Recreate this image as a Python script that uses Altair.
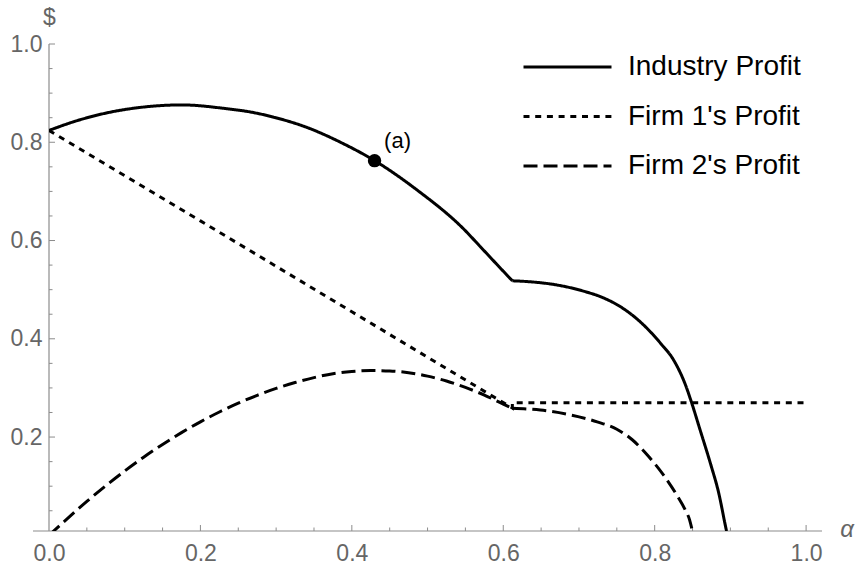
import altair as alt
import pandas as pd

# ---------------- data ----------------
series_names = ["Industry Profit", "Firm 1's Profit", "Firm 2's Profit"]

# industry profit, left of the kink and right of the kink
alpha_industry_left = [0.0, 0.033, 0.077, 0.121, 0.176, 0.231, 0.270, 0.297, 0.341,
                       0.385, 0.430, 0.486, 0.548, 0.570, 0.590, 0.612]
industry_left = [0.824, 0.842, 0.860, 0.871, 0.876, 0.869, 0.8605, 0.851, 0.830,
                 0.800, 0.7626, 0.703, 0.623, 0.587, 0.554, 0.518]
alpha_industry_right = [0.612, 0.636, 0.671, 0.706, 0.7284, 0.7548, 0.7813, 0.8077,
                        0.8253, 0.8407, 0.8473, 0.8605, 0.8737, 0.8843, 0.8949, 0.8962]
industry_right = [0.518, 0.516, 0.5095, 0.497, 0.4857, 0.4653, 0.434, 0.391,
                  0.356, 0.306, 0.277, 0.212, 0.146, 0.088, 0.0088, 0.0]

alpha_firm1 = [0.0, 0.2, 0.4, 0.612, 0.612, 1.0]
firm1 = [0.824, 0.640, 0.455, 0.259, 0.270, 0.270]

alpha_firm2_left = [0.0, 0.025, 0.05, 0.075, 0.1, 0.125, 0.15, 0.175, 0.2, 0.225,
                    0.25, 0.275, 0.3, 0.325, 0.35, 0.375, 0.4, 0.425, 0.45, 0.475,
                    0.5, 0.525, 0.55, 0.575, 0.6, 0.612]
firm2_left = [0.0, 0.035, 0.069, 0.101, 0.131, 0.159, 0.185, 0.209, 0.231, 0.251,
              0.269, 0.285, 0.299, 0.311, 0.321, 0.329, 0.3335, 0.3355, 0.3345, 0.331,
              0.324, 0.314, 0.301, 0.2855, 0.267, 0.2585]
alpha_firm2_right = [0.612, 0.649, 0.689, 0.724, 0.750, 0.770, 0.790, 0.812,
                     0.830, 0.840, 0.846, 0.851]
firm2_right = [0.2585, 0.255, 0.245, 0.231, 0.216, 0.195, 0.164, 0.122,
               0.080, 0.053, 0.032, 0.0]

point_alpha = [0.430]
point_value = [0.7626]
point_label = ["(a)"]

x_tick_labels = [0.0, 0.2, 0.4, 0.6, 0.8, 1.0]
x_major = [0.2, 0.4, 0.6, 0.8, 1.0]
x_minor = [0.05, 0.1, 0.15, 0.25, 0.3, 0.35, 0.45, 0.5, 0.55, 0.65, 0.7,
           0.75, 0.85, 0.9, 0.95]
y_tick_labels = [0.2, 0.4, 0.6, 0.8, 1.0]
y_major = [0.2, 0.4, 0.6, 0.8, 1.0]
y_minor = [0.05, 0.1, 0.15, 0.25, 0.3, 0.35, 0.45, 0.5, 0.55, 0.65, 0.7,
           0.75, 0.85, 0.9, 0.95]
x_title = ["α"]

# ---------------- layout ----------------
W, H = 773, 487
FONT = "Liberation Sans"
AXIS_GREY = "#8c8c8c"
LABEL_GREY = "#666666"


def seg(a, v, name, part):
    return pd.DataFrame({"alpha": a, "profit": v, "series": name,
                         "seg": name + part, "order": range(len(v))})


smooth_df = pd.concat([
    seg(alpha_industry_left, industry_left, series_names[0], "L"),
    seg(alpha_industry_right, industry_right, series_names[0], "R"),
    seg(alpha_firm2_left, firm2_left, series_names[2], "L"),
    seg(alpha_firm2_right, firm2_right, series_names[2], "R"),
])
firm1_df = seg(alpha_firm1, firm1, series_names[1], "A")

xscale = alt.Scale(domain=[0, 1.021], nice=False, zero=False)
yscale = alt.Scale(domain=[0.0088, 1.0], nice=False, zero=False)

x_enc = alt.X("alpha:Q", scale=xscale,
              axis=alt.Axis(values=x_tick_labels, format=".1f", domain=False, ticks=False,
                            grid=False, labelFontSize=23, labelColor=LABEL_GREY,
                            labelFont=FONT, labelPadding=11, labelFlush=False,
                            labelOverlap=False, title=None))
y_enc = alt.Y("profit:Q", scale=yscale,
              axis=alt.Axis(values=y_tick_labels, format=".1f", domain=False, ticks=False,
                            grid=False, labelFontSize=23, labelColor=LABEL_GREY,
                            labelFont=FONT, labelPadding=7, labelFlush=False,
                            labelOverlap=False, title="$", titleFont=FONT,
                            titleFontWeight="normal", titleFontSize=23,
                            titleColor=LABEL_GREY, titleAngle=0, titleX=0, titleY=-27,
                            titleAlign="center", titleBaseline="middle"))
legend = alt.Legend(orient="none", legendX=473, legendY=8, title=None,
                    symbolType="stroke", symbolSize=7744,
                    symbolStrokeWidth=3, symbolStrokeColor="black",
                    labelFontSize=28, labelFont=FONT, labelColor="black",
                    labelLimit=0, labelOffset=15, clipHeight=30, rowPadding=19.5)
dash_enc = alt.StrokeDash(
    "series:N",
    scale=alt.Scale(domain=series_names, range=[[1, 0], [6, 5.7], [14, 6]]),
    sort=series_names, legend=legend)

smooth_lines = alt.Chart(smooth_df).mark_line(
    color="black", strokeWidth=3, clip=True, interpolate="monotone").encode(
    x=x_enc, y=y_enc, strokeDash=dash_enc, detail="seg:N", order="order:Q")
firm1_line = alt.Chart(firm1_df).mark_line(
    color="black", strokeWidth=3, clip=True).encode(
    x=x_enc, y=y_enc, strokeDash=dash_enc, detail="seg:N", order="order:Q")

one = pd.DataFrame({"k": [0]})

x_axis_line = alt.Chart(one).mark_rule(color=AXIS_GREY, strokeWidth=1.2).encode(
    x=alt.value(-16), x2=alt.value(W), y=alt.value(H))
y_axis_line = alt.Chart(one).mark_rule(color=AXIS_GREY, strokeWidth=1.2).encode(
    x=alt.value(0), y=alt.value(0), y2=alt.value(H))
x_title_mark = alt.Chart(pd.DataFrame({"t": x_title})).mark_text(
    font=FONT, fontSize=24, fontStyle="italic", color=LABEL_GREY,
    align="center", baseline="middle").encode(
    x=alt.value(W + 25), y=alt.value(H - 1), text="t:N")

xmaj = alt.Chart(pd.DataFrame({"v": x_major})).mark_rule(color=AXIS_GREY, strokeWidth=1).encode(
    x=alt.X("v:Q", scale=xscale), y=alt.value(H), y2=alt.value(H - 6))
xmin = alt.Chart(pd.DataFrame({"v": x_minor})).mark_rule(color=AXIS_GREY, strokeWidth=1).encode(
    x=alt.X("v:Q", scale=xscale), y=alt.value(H), y2=alt.value(H - 3.5))
ymaj = alt.Chart(pd.DataFrame({"v": y_major})).mark_rule(color=AXIS_GREY, strokeWidth=1).encode(
    y=alt.Y("v:Q", scale=yscale), x=alt.value(0), x2=alt.value(6))
ymin = alt.Chart(pd.DataFrame({"v": y_minor})).mark_rule(color=AXIS_GREY, strokeWidth=1).encode(
    y=alt.Y("v:Q", scale=yscale), x=alt.value(0), x2=alt.value(3.5))

pt_df = pd.DataFrame({"alpha": point_alpha, "profit": point_value, "label": point_label})
pt = alt.Chart(pt_df).mark_point(filled=True, color="black", size=180, opacity=1).encode(
    x=alt.X("alpha:Q", scale=xscale), y=alt.Y("profit:Q", scale=yscale))
pt_text = alt.Chart(pt_df).mark_text(font=FONT, fontSize=22, color="black", dx=23, dy=-20,
                                     align="center", baseline="middle").encode(
    x=alt.X("alpha:Q", scale=xscale), y=alt.Y("profit:Q", scale=yscale), text="label:N")

chart = alt.layer(
    x_axis_line, y_axis_line, xmaj, xmin, ymaj, ymin, x_title_mark,
    smooth_lines, firm1_line, pt, pt_text
).properties(
    width=W, height=H,
    autosize=alt.AutoSizeParams(type="none"),
    padding={"left": 49, "top": 44, "right": 35, "bottom": 36},
    background="white",
).configure_view(stroke=None)

chart.save("out.html", embed_options={"renderer": "svg", "actions": False})
